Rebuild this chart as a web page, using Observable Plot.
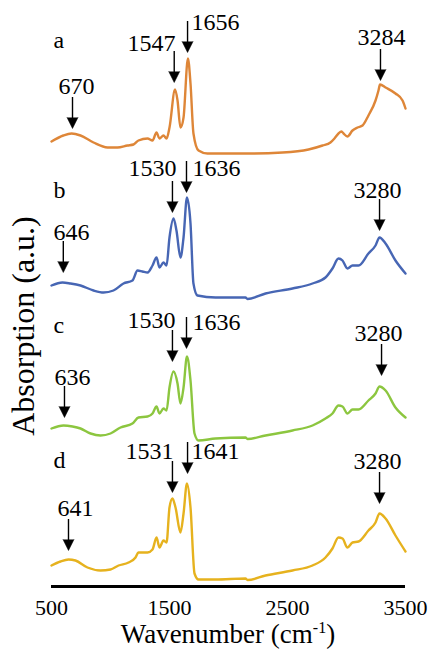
<!DOCTYPE html>
<html>
<head>
<meta charset="utf-8">
<script src="https://cdn.jsdelivr.net/npm/d3@7"></script>
<script src="https://cdn.jsdelivr.net/npm/@observablehq/plot@0.6"></script>
<style>
  html, body { margin: 0; padding: 0; background: #fff; }
  #chart svg { display: block; }
</style>
</head>
<body>
<div id="chart"></div>
<script>
// ---- Data (wavenumber in cm-1, absorption in arbitrary units, spectra stacked) ----
const xTicks = [500, 1500, 2500, 3500];

const seriesNames = ["a", "b", "c", "d"];
const seriesColors = ["#DE8638", "#4766B4", "#8CC63F", "#E6B21E"];

const aWave = [500, 600, 670, 746, 856, 975, 1059, 1144, 1195, 1237, 1314, 1356, 1390, 1415, 1449, 1475, 1500, 1547, 1568, 1593, 1619, 1656, 1678, 1703, 1746, 1822, 1890, 2169, 2458, 2678, 2797, 2864, 2898, 2932, 2958, 2975, 3008, 3051, 3093, 3136, 3186, 3246, 3271, 3284, 3331, 3415, 3475, 3500];
const aAbs  = [4.45, 4.51, 4.53, 4.51, 4.44, 4.39, 4.39, 4.41, 4.42, 4.46, 4.48, 4.46, 4.54, 4.48, 4.51, 4.48, 4.59, 4.97, 4.86, 4.59, 4.69, 5.28, 5.03, 4.53, 4.36, 4.33, 4.33, 4.33, 4.34, 4.37, 4.41, 4.44, 4.48, 4.53, 4.55, 4.53, 4.50, 4.56, 4.59, 4.61, 4.71, 4.86, 4.96, 5.02, 4.99, 4.93, 4.86, 4.78];

const bWave = [500, 593, 661, 746, 856, 941, 1025, 1110, 1186, 1229, 1271, 1314, 1356, 1390, 1415, 1449, 1475, 1500, 1534, 1559, 1593, 1619, 1648, 1678, 1703, 1737, 1890, 2144, 2161, 2314, 2542, 2712, 2822, 2881, 2932, 2966, 3008, 3051, 3102, 3186, 3246, 3280, 3331, 3415, 3500];
const bAbs  = [3.01, 3.04, 3.03, 3.01, 2.96, 2.94, 2.96, 3.03, 3.06, 3.16, 3.15, 3.14, 3.21, 3.29, 3.19, 3.24, 3.21, 3.49, 3.68, 3.56, 3.29, 3.49, 3.89, 3.63, 3.03, 2.91, 2.89, 2.89, 2.875, 2.93, 2.98, 3.03, 3.09, 3.18, 3.28, 3.26, 3.18, 3.21, 3.21, 3.33, 3.41, 3.49, 3.43, 3.26, 3.13];

const cWave = [500, 602, 678, 746, 831, 915, 1000, 1085, 1186, 1237, 1314, 1356, 1390, 1415, 1449, 1475, 1500, 1534, 1568, 1593, 1619, 1648, 1678, 1712, 1746, 1890, 2144, 2161, 2314, 2542, 2712, 2822, 2881, 2932, 2966, 3008, 3051, 3102, 3186, 3246, 3280, 3331, 3415, 3500];
const cAbs  = [1.58, 1.61, 1.60, 1.58, 1.53, 1.51, 1.53, 1.59, 1.63, 1.69, 1.70, 1.73, 1.80, 1.73, 1.78, 1.76, 1.99, 2.15, 2.03, 1.83, 1.99, 2.30, 2.06, 1.53, 1.46, 1.48, 1.49, 1.475, 1.51, 1.56, 1.61, 1.68, 1.73, 1.81, 1.80, 1.73, 1.77, 1.77, 1.86, 1.93, 2.00, 1.96, 1.79, 1.69];

const dWave = [500, 576, 644, 703, 805, 915, 1000, 1068, 1153, 1212, 1237, 1314, 1356, 1390, 1415, 1449, 1475, 1500, 1525, 1551, 1593, 1619, 1648, 1678, 1712, 1746, 1890, 2144, 2161, 2314, 2542, 2712, 2822, 2881, 2932, 2966, 3008, 3051, 3102, 3186, 3246, 3280, 3331, 3415, 3500];
const dAbs  = [0.21, 0.25, 0.27, 0.26, 0.19, 0.16, 0.17, 0.21, 0.24, 0.29, 0.34, 0.34, 0.37, 0.49, 0.39, 0.46, 0.44, 0.79, 0.88, 0.79, 0.54, 0.73, 1.03, 0.79, 0.13, 0.07, 0.07, 0.08, 0.065, 0.11, 0.16, 0.21, 0.29, 0.38, 0.49, 0.48, 0.39, 0.44, 0.45, 0.56, 0.64, 0.73, 0.68, 0.51, 0.35];

// Peak annotations
const annotLabel  = ["670", "1547", "1656", "3284",  "646", "1530", "1636", "3280",  "636", "1530", "1636", "3280",  "641", "1531", "1641", "3280"];
const annotWave   = [678, 1540, 1653, 3288,  600, 1525, 1644, 3280,  610, 1525, 1644, 3297,  644, 1525, 1653, 3280];
const annotTip    = [4.58, 5.04, 5.34, 5.06,  3.14, 3.74, 3.94, 3.56,  1.69, 2.25, 2.38, 2.11,  0.36, 0.94, 1.13, 0.83];
const labelWave   = [712, 1551, 1686, 3297,  669, 1559, 1695, 3263,  678, 1551, 1695, 3271,  703, 1534, 1686, 3263];
const labelAbs    = [5.00, 5.43, 5.64, 5.49,  3.54, 4.18, 4.18, 3.96,  2.09, 2.66, 2.64, 2.53,  0.78, 1.35, 1.35, 1.25];
const labelAnchor = ["middle", "end", "start", "middle",  "middle", "end", "start", "middle",  "middle", "end", "start", "middle",  "middle", "end", "start", "middle"];

// Series letters
const letterWave = 517;
const letterAbs = [5.46, 3.96, 2.61, 1.26];

// ---- Build tables ----
const waves = [aWave, bWave, cWave, dWave];
const absv = [aAbs, bAbs, cAbs, dAbs];
const spectra = seriesNames.flatMap((s, k) => waves[k].map((w, i) => ({series: s, w, abs: absv[k][i]})));
const annots = annotLabel.map((label, i) => ({
  label, wave: annotWave[i], tip: annotTip[i], lx: labelWave[i], ly: labelAbs[i], anchor: labelAnchor[i]
}));
const letters = seriesNames.map((s, i) => ({s, x: letterWave, y: letterAbs[i]}));

const serif = "'Liberation Serif', 'Times New Roman', Times, serif";
const ARROW = 0.31;

const heads = (typeof Plot.spike === "function")
  ? Plot.vector(annots, {x: "wave", y: "tip", length: 11, r: 5.5, rotate: 180, anchor: "end", shape: "spike", fill: "black", stroke: "black", strokeWidth: 0.5})
  : Plot.text(annots, {x: "wave", y: "tip", text: () => "\u25BC", fontSize: 13, dy: -5, fill: "black", fontFamily: "DejaVu Sans"});

const lineMarks = seriesNames.map((s, k) =>
  Plot.line(spectra.filter(d => d.series === s), {x: "w", y: "abs", stroke: seriesColors[k], strokeWidth: 2.4, curve: "monotone-x"})
);

const plot = Plot.plot({
  width: 431,
  height: 651,
  marginLeft: 51,
  marginRight: 26,
  marginTop: 0,
  marginBottom: 65,
  style: {fontFamily: serif, fontSize: "22px", background: "white", color: "black", overflow: "visible"},
  x: {domain: [500, 3500], ticks: xTicks, tickSize: 0, tickPadding: 13, label: null, tickFormat: d => String(d)},
  y: {domain: [0, 5.86], axis: null},
  marks: [
    ...lineMarks,
    Plot.ruleY([0], {stroke: "black", strokeWidth: 3}),
    Plot.ruleX(annots, {x: "wave", y1: d => d.tip + 0.09, y2: d => d.tip + ARROW, stroke: "black", strokeWidth: 1.4}),
    heads,
    ...["middle", "end", "start"].map(a =>
      Plot.text(annots.filter(d => d.anchor === a), {x: "lx", y: "ly", text: "label", textAnchor: a, fontSize: 24, fill: "black", fontFamily: serif})
    ),
    Plot.text(letters, {x: "x", y: "y", text: "s", textAnchor: "start", fontSize: 24, fill: "black", fontFamily: serif})
  ]
});

const svg = d3.select(plot);
// x-axis title with superscript
const xt = svg.append("text")
  .attr("x", 228).attr("y", 643)
  .attr("text-anchor", "middle")
  .style("font-family", serif).style("font-size", "27px").attr("fill", "black");
xt.append("tspan").text("Wavenumber (cm");
xt.append("tspan").attr("dy", "-10").style("font-size", "16px").text("-1");
xt.append("tspan").attr("dy", "10").text(")");
// y-axis title
svg.append("text")
  .attr("transform", "translate(34,326) rotate(-90)")
  .attr("text-anchor", "middle")
  .style("font-family", serif).style("font-size", "32px").attr("fill", "black")
  .text("Absorption (a.u.)");

document.getElementById("chart").appendChild(plot);
</script>
</body>
</html>
